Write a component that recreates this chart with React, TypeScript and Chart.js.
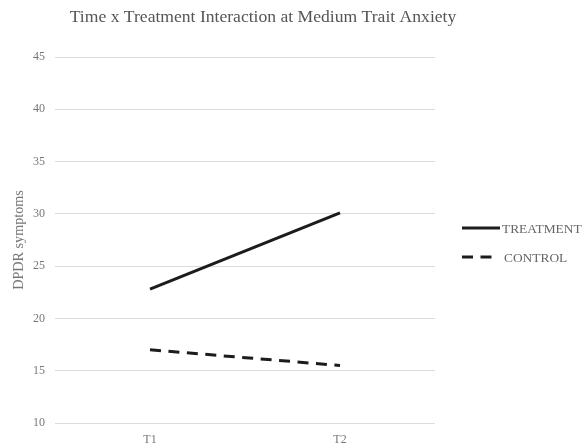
import React, { useEffect, useRef } from "react";
import { Chart, registerables } from "chart.js";

Chart.register(...registerables);

const chartTitle = "Time x Treatment Interaction at Medium Trait Anxiety";
const yAxisTitle = "DPDR symptoms";
const categories = ["T1", "T2"];
const seriesLabels = ["TREATMENT", "CONTROL"];
const treatmentValues = [22.8, 30.1];
const controlValues = [17.0, 15.5];
const yMin = 10;
const yMax = 45;
const yStep = 5;

const SERIF = '"Liberation Serif", "DejaVu Serif", serif';

const titlePlugin = {
  id: "customTitle",
  afterDraw(chart: any) {
    const ctx = chart.ctx;
    ctx.save();
    ctx.font = `17.6px ${SERIF}`;
    ctx.fillStyle = "#555";
    ctx.textAlign = "center";
    ctx.textBaseline = "middle";
    ctx.fillText(chartTitle, 263, 17);
    ctx.restore();
  },
};

const legendPlugin = {
  id: "customLegend",
  afterDraw(chart: any) {
    const ctx = chart.ctx;
    const area = chart.chartArea;
    const x0 = area.right + 27;
    const y0 = (area.top + area.bottom) / 2 - 12;
    chart.data.datasets.forEach((ds: any, i: number) => {
      const y = y0 + i * 29;
      ctx.save();
      ctx.strokeStyle = ds.borderColor;
      ctx.lineWidth = ds.borderWidth;
      ctx.setLineDash(ds.borderDash || []);
      ctx.beginPath();
      ctx.moveTo(x0, y);
      ctx.lineTo(x0 + (i === 0 ? 38 : 30), y);
      ctx.stroke();
      ctx.setLineDash([]);
      ctx.font = `13.4px ${SERIF}`;
      ctx.fillStyle = "#666";
      ctx.textAlign = "left";
      ctx.textBaseline = "middle";
      ctx.fillText(ds.label, i === 0 ? x0 + 40 : x0 + 42, y + 1);
      ctx.restore();
    });
  },
};

export default function App() {
  const ref = useRef<HTMLCanvasElement | null>(null);

  useEffect(() => {
    if (!ref.current) return;
    const chart = new Chart(ref.current, {
      type: "line",
      data: {
        labels: categories,
        datasets: [
          {
            label: seriesLabels[0],
            data: treatmentValues,
            borderColor: "#1c1c1c",
            borderWidth: 3,
            pointRadius: 0,
            tension: 0,
            fill: false,
          },
          {
            label: seriesLabels[1],
            data: controlValues,
            borderColor: "#1c1c1c",
            borderWidth: 3,
            borderDash: [11, 7.5],
            pointRadius: 0,
            tension: 0,
            fill: false,
          },
        ],
      },
      options: {
        responsive: false,
        animation: false,
        devicePixelRatio: 1,
        layout: { padding: { top: 57, right: 150, bottom: 0, left: 0 } },
        plugins: {
          legend: { display: false },
          title: { display: false },
          tooltip: { enabled: false },
        },
        scales: {
          x: {
            type: "category",
            offset: true,
            grid: { display: false, drawTicks: false },
            border: { display: false },
            ticks: {
              font: { family: SERIF, size: 12 },
              color: "#777",
              padding: 10,
            },
            afterFit: (s: any) => {
              s.height = 25;
            },
          },
          y: {
            min: yMin,
            max: yMax,
            ticks: {
              stepSize: yStep,
              font: { family: SERIF, size: 12 },
              color: "#777",
              padding: 10,
            },
            grid: { color: "#dcdcdc", lineWidth: 1, drawTicks: false },
            border: { display: false },
            title: {
              display: true,
              text: yAxisTitle,
              font: { family: SERIF, size: 14.2 },
              color: "#777",
              padding: { top: 10.5, bottom: 0 },
            },
            afterFit: (s: any) => {
              s.width = 55;
            },
          },
        },
      },
      plugins: [titlePlugin, legendPlugin],
    });
    return () => chart.destroy();
  }, []);

  return (
    <canvas
      ref={ref}
      width={585}
      height={448}
      style={{ position: "absolute", left: 0, top: 0, width: 585, height: 448 }}
    />
  );
}
